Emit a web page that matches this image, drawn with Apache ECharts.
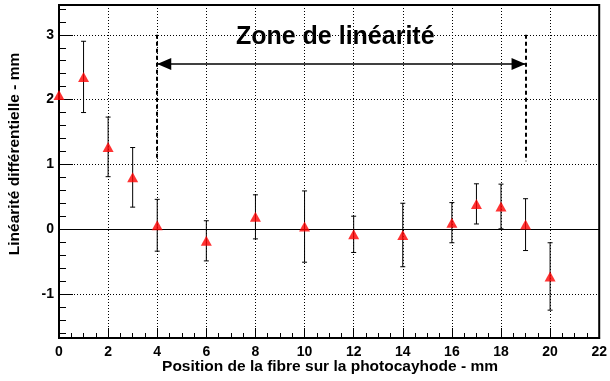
<!DOCTYPE html>
<html><head><meta charset="utf-8">
<script src="https://cdn.jsdelivr.net/npm/echarts@6/dist/echarts.min.js"></script>
<style>html,body{margin:0;padding:0;background:#fff}#c{width:610px;height:381px}</style>
</head><body><div id="c"></div>
<script>
const positions = [0, 1, 2, 3, 4, 6, 8, 10, 12, 14, 16, 17, 18, 19, 20];
const values    = [2.07, 2.35, 1.27, 0.80, 0.06, -0.18, 0.19, 0.04, -0.08, -0.09, 0.10, 0.39, 0.35, 0.07, -0.73];
const errors    = [null, 0.55, 0.46, 0.46, 0.40, 0.31, 0.34, 0.55, 0.28, 0.49, 0.31, 0.31, 0.345, 0.40, 0.52];
const xRange = [0, 22];
const yRange = [-1.68, 3.46];
const zoneStart = 4, zoneEnd = 19;
const zoneArrowY = 2.55;
const zoneDashTop = 3.0, zoneDashBottom = 1.05;
const zoneLabel = 'Zone de linéarité';
const zoneLabelPos = [11.25, 2.96];
const xTitle = 'Position de la fibre sur la photocayhode - mm';
const yTitle = 'Linéarité différentielle - mm';

const FONT = '"Liberation Sans", Arial, Helvetica, sans-serif';
const chart = echarts.init(document.getElementById('c'), null, {renderer: 'canvas'});

const pts = positions.map((x, i) => [x, values[i]]);
const errData = [];
positions.forEach((x, i) => {
  if (errors[i] != null) errData.push([x, values[i] - errors[i], values[i] + errors[i]]);
});

const option = {
  animation: false,
  backgroundColor: '#fff',
  grid: {left: 59, right: 7, top: 5, bottom: 43, show: true, borderColor: '#000', borderWidth: 2, backgroundColor: 'transparent'},
  xAxis: {
    type: 'value', min: xRange[0], max: xRange[1], interval: 2,
    axisLine: {show: true, onZero: false, lineStyle: {color: '#000', width: 2}},
    axisTick: {show: true, inside: true, length: 10, lineStyle: {color: '#000', width: 1}},
    minorTick: {show: true, splitNumber: 4, length: 5, lineStyle: {color: '#000', width: 1}},
    axisLabel: {color: '#000', fontFamily: FONT, fontWeight: 'bold', fontSize: 14, margin: 7},
    splitLine: {show: true, lineStyle: {color: '#000', width: 1, type: [1, 2]}},
    minorSplitLine: {show: false}
  },
  yAxis: {
    type: 'value', min: yRange[0], max: yRange[1],
    axisLine: {show: true, onZero: false, lineStyle: {color: '#000', width: 2}},
    axisTick: {show: true, inside: true, length: 14, lineStyle: {color: '#000', width: 1}},
    minorTick: {show: true, splitNumber: 5, length: 7, lineStyle: {color: '#000', width: 1}},
    axisLabel: {color: '#000', fontFamily: FONT, fontWeight: 'bold', fontSize: 14, margin: 5, showMinLabel: false, showMaxLabel: false},
    splitLine: {show: true, lineStyle: {color: '#000', width: 1, type: [1, 2]}}
  },
  graphic: [
    {type: 'text', x: 15, y: 154, rotation: Math.PI / 2,
     style: {text: yTitle, textAlign: 'center', textVerticalAlign: 'middle', fill: '#000', font: 'bold 15.5px ' + FONT}},
    {type: 'text', x: 330, y: 367,
     style: {text: xTitle, textAlign: 'center', textVerticalAlign: 'middle', fill: '#000', font: 'bold 15.5px ' + FONT}}
  ],
  series: [
    {
      type: 'line', data: [], silent: true,
      markLine: {
        silent: true, animation: false, symbol: ['none', 'none'], label: {show: false},
        data: [
          {yAxis: 0, lineStyle: {color: '#000', width: 1, type: 'solid'}},
          [{coord: [zoneStart, zoneDashTop]}, {coord: [zoneStart, zoneDashBottom]}],
          [{coord: [zoneEnd, zoneDashTop]}, {coord: [zoneEnd, zoneDashBottom]}]
        ],
        lineStyle: {color: '#000', width: 2, type: [4, 3]}
      }
    },
    {
      type: 'line', data: [], silent: true,
      markLine: {
        silent: true, animation: false, symbol: ['triangle', 'triangle'], symbolSize: [12, 14],
        symbolOffset: [[0, 7], [0, 7]],
        label: {show: false},
        data: [[{coord: [zoneStart, zoneArrowY]}, {coord: [zoneEnd, zoneArrowY]}]],
        lineStyle: {color: '#000', width: 1.5, type: 'solid'},
        itemStyle: {color: '#000'}
      },
      markPoint: {
        silent: true, animation: false, symbol: 'circle', symbolSize: 0,
        data: [{coord: zoneLabelPos}],
        label: {show: true, position: 'inside', formatter: zoneLabel, color: '#000', fontFamily: FONT, fontWeight: 'bold', fontSize: 25}
      }
    },
    {
      type: 'custom', data: errData, z: 3, silent: true,
      renderItem: function (params, api) {
        const x = api.value(0), lo = api.value(1), hi = api.value(2);
        const a = api.coord([x, hi]), b = api.coord([x, lo]);
        const w = 2.5;
        const st = {stroke: '#000', lineWidth: 1};
        return {type: 'group', children: [
          {type: 'line', shape: {x1: a[0], y1: a[1], x2: b[0], y2: b[1]}, style: st},
          {type: 'line', shape: {x1: a[0] - w, y1: a[1], x2: a[0] + w, y2: a[1]}, style: st},
          {type: 'line', shape: {x1: b[0] - w, y1: b[1], x2: b[0] + w, y2: b[1]}, style: st}
        ]};
      }
    },
    {
      type: 'scatter', data: pts, z: 5, symbol: 'triangle', symbolSize: [11, 10],
      itemStyle: {color: '#ff0000'}, silent: true, clip: false
    }
  ]
};
chart.setOption(option);
</script>
</body></html>
